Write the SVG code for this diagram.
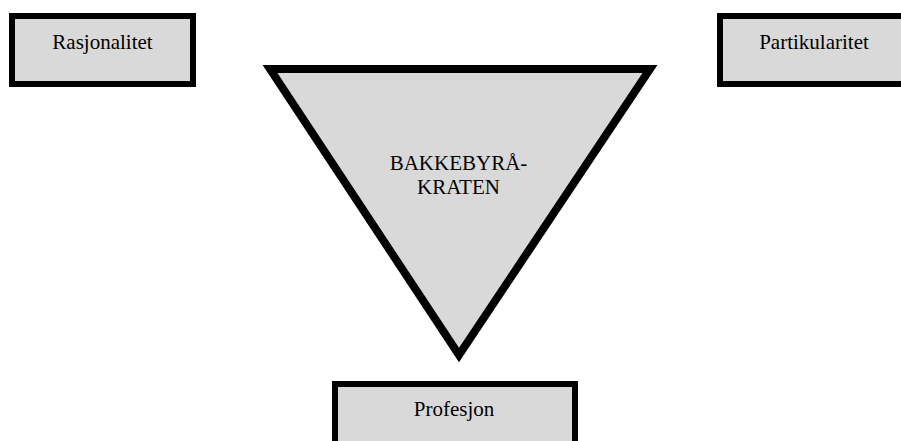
<svg xmlns="http://www.w3.org/2000/svg" width="901" height="441" viewBox="0 0 901 441">
<style>
.box{fill:#d9d9d9;stroke:#000;stroke-width:6}
.tri{fill:#d9d9d9;stroke:#000;stroke-width:8;stroke-linejoin:miter}
.lbl{font-family:"Liberation Serif","Times New Roman",serif;font-size:21px;fill:#000;text-anchor:middle}
</style>
<rect width="901" height="441" fill="#fff"/>
<g id="rasjonalitet">
<rect class="box" x="12" y="16" width="181" height="68"/>
<text class="lbl" x="102.5" y="49">Rasjonalitet</text>
</g>
<g id="partikularitet">
<rect class="box" x="720" y="16" width="190" height="68"/>
<text class="lbl" x="814" y="49">Partikularitet</text>
</g>
<g id="bakkebyrakraten">
<polygon class="tri" points="270,69 650,69 459,355"/>
<text class="lbl" x="458.5" y="170">BAKKEBYRÅ-</text>
<text class="lbl" x="458.5" y="194">KRATEN</text>
</g>
<g id="profesjon">
<rect class="box" x="335" y="384" width="240" height="70"/>
<text class="lbl" x="454" y="416">Profesjon</text>
</g>
<g id="connectors"></g>
</svg>
